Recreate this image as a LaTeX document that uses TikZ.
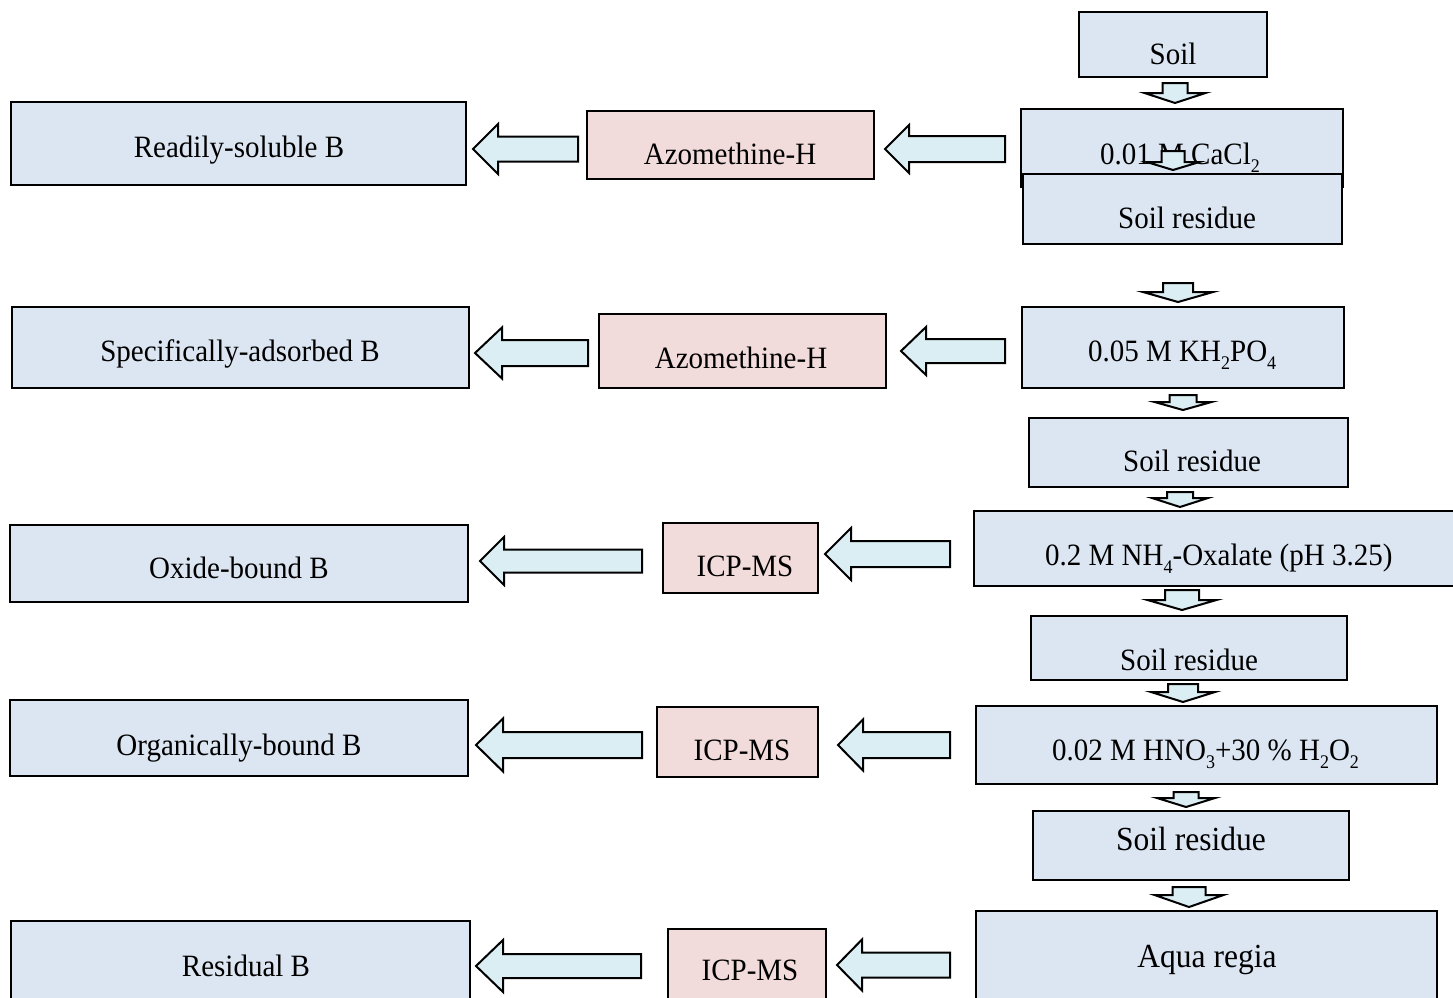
\documentclass[tikz,border=0pt]{standalone}
\usepackage{fontspec}
\setmainfont{Liberation Serif}
\definecolor{boxblue}{HTML}{DCE6F2}
\definecolor{boxpink}{HTML}{F2DCDB}
\definecolor{arrowfill}{HTML}{DBEEF4}
\newcommand\dn[1]{\raisebox{-8pt}{\fontsize{18}{18}\selectfont #1}}
% box: style, name, x1, y1, x2, y2
\newcommand\bx[6]{\node[#1, minimum width={#5-#3}, minimum height={#6-#4}] (#2) at ({(#3+#5)/2},{(#4+#6)/2}) {};}
% left block arrow: tipx, y, backx, endx, shaft half, head half
\newcommand\larr[6]{\draw[blockarrow] (#1,#2) -- (#3,#2-#6) -- (#3,#2-#5) -- (#4,#2-#5) -- (#4,#2+#5) -- (#3,#2+#5) -- (#3,#2+#6) -- cycle;}
% down block arrow: cx, top, base, tip, shaft half, head half
\newcommand\darr[6]{\draw[blockarrow] (#1-#5,#2) -- (#1+#5,#2) -- (#1+#5,#3) -- (#1+#6,#3) -- (#1,#4) -- (#1-#6,#3) -- (#1-#5,#3) -- cycle;}
\tikzset{
  bluebox/.style={draw=black, line width=1.8pt, fill=boxblue, inner sep=0pt, outer sep=0pt, rectangle},
  pinkbox/.style={draw=black, line width=1.8pt, fill=boxpink, inner sep=0pt, outer sep=0pt, rectangle},
  blockarrow/.style={draw=black, line width=2pt, fill=arrowfill, line join=miter},
  txt/.style={font=\fontsize{29}{33}\selectfont, inner sep=0pt, anchor=base, transform shape, yscale=1.07},
  bigtxt/.style={font=\fontsize{31.5}{36}\selectfont, inner sep=0pt, anchor=base, transform shape, yscale=1.07}
}
\begin{document}
\begin{tikzpicture}[x=1pt,y=-1pt]
\useasboundingbox (0,0) rectangle (1453,998);
\clip (0,0) rectangle (1453,998);
% right column
\bx{bluebox}{soil}{1079}{12}{1267}{77}
\node[txt] (tsoil) at (1173,65) {Soil};
\darr{1175}{83}{93}{103}{12.5}{30.5}
\bx{bluebox}{cacl}{1021}{109}{1343}{187}
\node[txt, anchor=base west] (tcacl) at (1100,164) {0.01 M CaCl\dn{2}};
\darr{1173}{151}{162}{170}{11.5}{26.5}
\bx{bluebox}{sr1}{1023}{174}{1342}{244}
\node[txt] (tsr1) at (1187,228) {Soil residue};
\darr{1178}{283}{292}{302}{15}{35}
\bx{bluebox}{kh}{1022}{307}{1344}{388}
\node[txt, anchor=base west] (tkh) at (1088,361) {0.05 M KH\dn{2}PO\dn{4}};
\darr{1183}{395}{402}{410}{13.5}{28.5}
\bx{bluebox}{sr2}{1029}{418}{1348}{487}
\node[txt] (tsr2) at (1192,471) {Soil residue};
\darr{1180}{492}{498}{507}{13}{28}
\bx{bluebox}{ox}{974}{511}{1470}{586}
\node[txt, anchor=base west] (tox) at (1045,565) {0.2 M NH\dn{4}-Oxalate (pH 3.25)};
\darr{1182}{590}{600}{610}{17}{34.5}
\bx{bluebox}{sr3}{1031}{616}{1347}{680}
\node[txt] (tsr3) at (1189,670) {Soil residue};
\darr{1183}{684}{692}{702}{15}{32}
\bx{bluebox}{hno}{976}{706}{1437}{784}
\node[txt, anchor=base west] (thno) at (1052,760) {0.02 M HNO\dn{3}+30 \% H\dn{2}O\dn{2}};
\darr{1186}{792}{798}{807}{12.5}{29}
\bx{bluebox}{sr4}{1033}{811}{1349}{880}
\node[bigtxt] (tsr4) at (1191,850) {Soil residue};
\darr{1189}{887}{895}{907}{16.5}{34.5}
\bx{bluebox}{aqua}{976}{911}{1437}{1020}
\node[bigtxt] (taqua) at (1207,967) {Aqua regia};
% middle column
\bx{pinkbox}{azo1}{587}{111}{874}{179}
\node[txt] (tazo1) at (730,164) {Azomethine-H};
\bx{pinkbox}{azo2}{599}{314}{886}{388}
\node[txt] (tazo2) at (741,368) {Azomethine-H};
\bx{pinkbox}{icp1}{663}{523}{818}{593}
\node[txt] (ticp1) at (745,576) {ICP-MS};
\bx{pinkbox}{icp2}{657}{707}{818}{777}
\node[txt] (ticp2) at (742,760) {ICP-MS};
\bx{pinkbox}{icp3}{668}{929}{826}{1020}
\node[txt] (ticp3) at (750,980) {ICP-MS};
% left column
\bx{bluebox}{readily}{11}{102}{466}{185}
\node[txt] (treadily) at (239,157) {Readily-soluble B};
\bx{bluebox}{spec}{12}{307}{469}{388}
\node[txt] (tspec) at (240,361) {Specifically-adsorbed B};
\bx{bluebox}{oxide}{10}{525}{468}{602}
\node[txt] (toxide) at (239,578) {Oxide-bound B};
\bx{bluebox}{organ}{10}{700}{468}{776}
\node[txt] (torgan) at (239,755) {Organically-bound B};
\bx{bluebox}{resid}{11}{921}{470}{1020}
\node[txt] (tresid) at (246,976) {Residual B};
% left arrows
\larr{473}{149}{498}{578}{12.5}{25}
\larr{885}{149}{909}{1005}{13}{24}
\larr{475}{353}{502}{588}{13}{25.5}
\larr{901}{351}{926}{1005}{12}{24}
\larr{480}{561}{504}{642}{11.5}{24}
\larr{825}{554}{851}{950}{13}{26}
\larr{476}{745}{503}{642}{13}{26.5}
\larr{838}{745}{863}{950}{13}{25.5}
\larr{476}{966}{503}{641}{12}{26}
\larr{837}{965}{862}{950}{12.5}{25.5}
\end{tikzpicture}
\end{document}
